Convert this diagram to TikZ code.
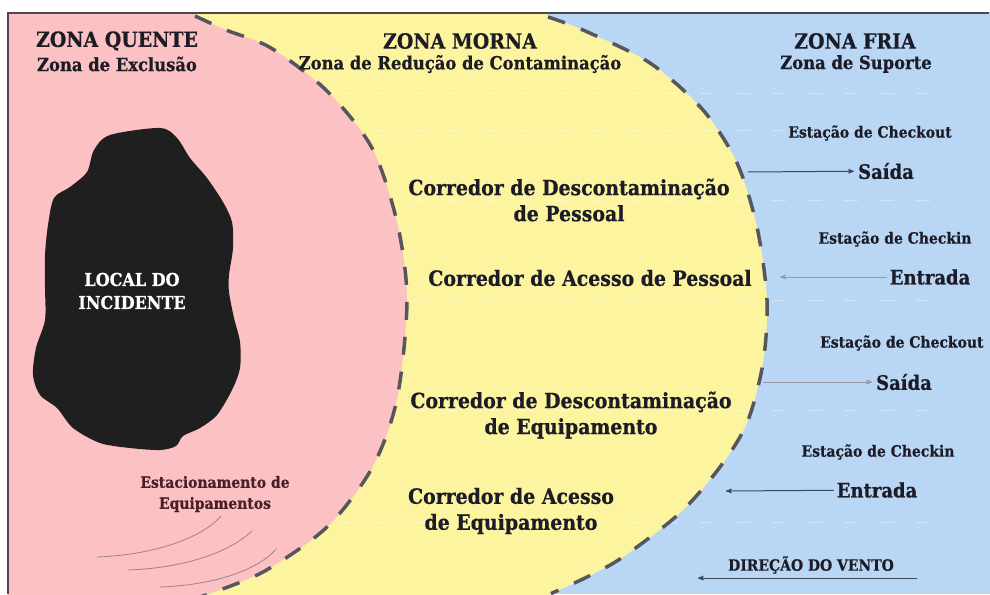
\documentclass[tikz,border=0pt]{standalone}
\usepackage{fontspec}
\setmainfont{DejaVu Serif}[FakeStretch=0.9,BoldFeatures={FakeBold=0.6}]
\usetikzlibrary{arrows}

\definecolor{hotpink}{HTML}{FCC1C3}
\definecolor{warmyellow}{HTML}{FDF4A0}
\definecolor{coldblue}{HTML}{BAD6F5}
\definecolor{dashgrey}{HTML}{56575E}
\definecolor{framegrey}{HTML}{4A4A4E}
\definecolor{inkdark}{HTML}{1C1C26}
\definecolor{parkred}{HTML}{4A2028}
\definecolor{arrowgrey}{HTML}{3E4858}

\begin{document}
\begin{tikzpicture}[x=1pt,y=-1pt,>=stealth',shorten >=1pt,
    zone title/.style={font=\bfseries\fontsize{21}{23}\selectfont,text=inkdark,inner sep=0pt},
    zone sub/.style={font=\bfseries\fontsize{18.2}{20}\selectfont,text=inkdark,inner sep=0pt},
    corridor/.style={font=\bfseries\fontsize{21}{26}\selectfont,text=inkdark,align=center,inner sep=0pt},
    station/.style={font=\bfseries\fontsize{15.5}{17}\selectfont,text=inkdark,inner sep=0pt},
    gate/.style={font=\bfseries\fontsize{20}{22}\selectfont,text=inkdark,inner sep=3pt},
    zone border/.style={draw=dashgrey,line width=3.5pt,dash pattern=on 18pt off 17pt},
    flow/.style={->,draw=arrowgrey,line width=1pt}]

  \useasboundingbox (0,0) rectangle (990,594);

  \begin{scope}
    \clip (8,13) rectangle (990,594);
    % cold zone
    \fill[coldblue] (0,0) rectangle (990,594);
    % warm zone
    \fill[warmyellow] (0,0) -- (548,0) -- plot[smooth] coordinates {(548,17) (583,30) (650,63) (703,110) (737,163) (757,227) (767,300) (763,363) (747,423) (720,467) (680,513) (623,557) (587,577) (550,594)} -- (550,600) -- (0,600) -- cycle;
    % faint ruling lines
    \foreach \y in {93,130,200,300,410,522}
      \draw[white,opacity=0.35,line width=1pt,dash pattern=on 14pt off 22pt] (340,\y) -- (935,\y);
    % hot zone
    \fill[hotpink] (0,0) -- (195,0) -- plot[smooth] coordinates {(195,16) (226,30) (271,48) (327,91) (372,148) (397,222) (407,300) (397,399) (372,468) (327,527) (263,572) (200,597)} -- (0,600) -- cycle;
    \draw[zone border] plot[smooth] coordinates {(195,16) (226,30) (271,48) (327,91) (372,148) (397,222) (407,300) (397,399) (372,468) (327,527) (263,572) (200,597)};
    \draw[zone border] plot[smooth] coordinates {(548,17) (583,30) (650,63) (703,110) (737,163) (757,227) (767,300) (763,363) (747,423) (720,467) (680,513) (623,557) (587,577) (550,594)};

    % incident site
    \fill[black!88] plot[smooth cycle] coordinates {(110,135) (160,128) (177,138) (190,158) (207,178) (223,202) (232,222) (233,248) (229,275) (229,292) (234,318) (240,342) (240,368) (232,390) (217,415) (200,428) (183,436) (176,446) (160,450) (130,448) (100,443) (73,428) (57,408) (40,395) (33,375) (36,348) (45,320) (45,288) (45,255) (48,225) (54,198) (70,187) (87,172) (94,150)};

    % parking marks
    \draw[parkred!55,line width=0.8pt] (97,557) .. controls (150,555) and (200,540) .. (222,515);
    \draw[parkred!55,line width=0.8pt] (128,570) .. controls (185,568) and (230,552) .. (253,530);
    \draw[parkred!55,line width=0.8pt] (160,587) .. controls (215,585) and (258,570) .. (277,548);
  \end{scope}

  % frame
  \draw[framegrey,line width=2pt] (8,594) -- (8,13) -- (990,13);

  % zone titles
  \node[zone title] (hot) at (117,41) {ZONA QUENTE};
  \node[zone sub] (hotsub) at (117,64) {Zona de Exclusão};
  \node[zone title] (warm) at (460,41) {ZONA MORNA};
  \node[zone sub] (warmsub) at (460,64) {Zona de Redução de Contaminação};
  \node[zone title] (cold) at (855,41) {ZONA FRIA};
  \node[zone sub] (coldsub) at (856,64) {Zona de Suporte};

  % hot zone
  \node[font=\bfseries\fontsize{17.8}{23}\selectfont,text=white,align=center,inner sep=0pt] (site) at (132,291) {LOCAL DO\\INCIDENTE};
  \node[font=\bfseries\fontsize{15.5}{21}\selectfont,text=parkred,align=center,inner sep=0pt] (park) at (215,494) {Estacionamento de\\Equipamentos};

  % corridors
  \node[corridor] (deconP) at (569,200) {Corredor de Descontaminação\\de Pessoal};
  \node[corridor] (accessP) at (590,278) {Corredor de Acesso de Pessoal};
  \node[corridor] (deconE) at (571,415) {Corredor de Descontaminação\\de Equipamento};
  \node[corridor] (accessE) at (511,511) {Corredor de Acesso\\de Equipamento};

  % stations
  \node[station] (checkoutA) at (870,133) {Estação de Checkout};
  \node[gate] (saidaA) at (886,171) {Saída};
  \node[station] (checkinA) at (895,239) {Estação de Checkin};
  \node[gate] (entradaA) at (930,277) {Entrada};
  \node[station,anchor=west] (checkoutB) at (820,343) {Estação de Checkout};
  \node[gate] (saidaB) at (904,382) {Saída};
  \node[station] (checkinB) at (878,452) {Estação de Checkin};
  \node[gate] (entradaB) at (877,490) {Entrada};
  \node[station] (wind) at (811,565) {DIREÇÃO DO VENTO};

  \coordinate (outA) at (748,172);
  \coordinate (inA) at (779,277);
  \coordinate (outB) at (763,382);
  \coordinate (inB) at (725,491);
  \coordinate (windfrom) at (917,578);
  \coordinate (windto) at (697,578);

  \path[every edge/.append style={flow}]
    (outA) edge (saidaA)
    (entradaA) edge[draw=arrowgrey!55] (inA)
    (outB) edge[draw=arrowgrey!55] (saidaB)
    (entradaB) edge (inB)
    (windfrom) edge (windto);
\end{tikzpicture}
\end{document}
